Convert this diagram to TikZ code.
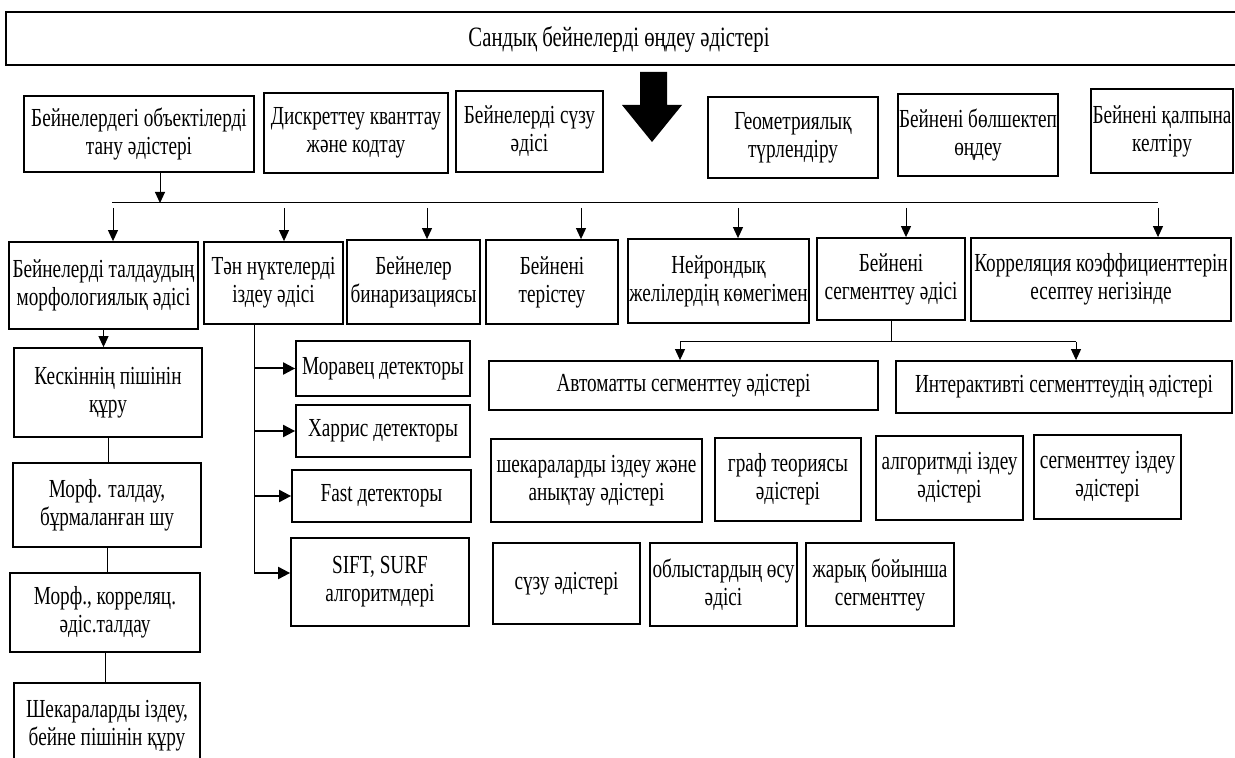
\documentclass[tikz,border=0pt]{standalone}
\usepackage{fontspec}
\setmainfont[FakeStretch=0.74]{Liberation Serif}
\usetikzlibrary{arrows.meta}
\newcommand\mybx[6]{\node[box, minimum width={(#4-#2)*0.5pt}, minimum height={(#5-#3)*0.5pt}] (#1) at ({(#2+#4)/2},{(#3+#5)/2}) {#6};}
\begin{document}
\begin{tikzpicture}[x=0.5pt,y=-0.5pt,
  box/.style={draw, line width=0.9pt, inner sep=0pt, align=center, font=\fontsize{13pt}{14pt}\selectfont},
  arr/.style={line width=0.5pt, -{Triangle[length=5.5pt,width=5pt]}},
  darr/.style={line width=1pt, -{Triangle[length=6pt,width=6pt]}},
  conn/.style={line width=0.5pt}]
\useasboundingbox (0,0) rectangle (1235,758);
% title
\mybx{T}{6}{12}{1245}{65}{}
\node[font=\fontsize{14pt}{16pt}\selectfont] (Tt) at (619,40) {Сандық бейнелерді өңдеу әдістері};
% big arrow
\fill (640,72) -- (667,72) -- (667,105) -- (682,105) -- (652,142) -- (622,105) -- (640,105) -- cycle;
% row 1
\mybx{A}{24}{96}{254}{172}{Бейнелердегі объектілерді\\тану әдістері}
\mybx{B}{264}{93}{448}{173}{Дискреттеу кванттау\\және кодтау}
\mybx{C}{456}{91}{603}{172}{Бейнелерді сүзу\\әдісі}
\mybx{D}{708}{97}{878}{178}{Геометриялық\\түрлендіру}
\mybx{E}{898}{94}{1058}{176}{Бейнені бөлшектеп\\өңдеу}
\mybx{F}{1091}{89}{1233}{173}{Бейнені қалпына\\келтіру}
% row 2
\mybx{G}{9}{242}{198}{329}{Бейнелерді талдаудың\\морфологиялық әдісі}
\mybx{H}{204}{242}{343}{324}{Тән нүктелерді\\іздеу әдісі}
\mybx{I}{347}{240}{480}{324}{Бейнелер\\бинаризациясы}
\mybx{J}{486}{240}{618}{324}{Бейнені\\терістеу}
\mybx{K}{628}{239}{809}{323}{Нейрондық\\желілердің көмегімен}
\mybx{L}{817}{238}{965}{320}{Бейнені\\сегменттеу әдісі}
\mybx{M}{971}{238}{1231}{321}{Корреляция коэффициенттерін\\есептеу негізінде}
% left column
\mybx{Q1}{14}{348}{202}{437}{Кескіннің пішінін\\құру}
\mybx{Q2}{13}{463}{201}{547}{Морф. талдау,\\бұрмаланған шу}
\mybx{Q3}{10}{573}{200}{652}{Морф., корреляц.\\әдіс.талдау}
\mybx{Q4}{14}{683}{200}{768}{Шекараларды іздеу,\\бейне пішінін құру}
% detectors
\mybx{Mor}{296}{341}{470}{396}{Моравец детекторы}
\mybx{Har}{296}{405}{470}{457}{Харрис детекторы}
\mybx{Fst}{292}{470}{471}{522}{Fast детекторы}
\mybx{Sft}{291}{538}{469}{626}{SIFT, SURF\\алгоритмдері}
% segmentation
\mybx{N}{489}{361}{878}{410}{Автоматты сегменттеу әдістері}
\mybx{O}{896}{361}{1232}{413}{Интерактивті сегменттеудің әдістері}
\mybx{P1}{491}{439}{702}{522}{шекараларды іздеу және\\анықтау әдістері}
\mybx{P2}{715}{438}{861}{521}{граф теориясы\\әдістері}
\mybx{P3}{876}{436}{1023}{520}{алгоритмді іздеу\\әдістері}
\mybx{P4}{1034}{435}{1181}{519}{сегменттеу іздеу\\әдістері}
\mybx{P5}{493}{543}{640}{624}{сүзу әдістері}
\mybx{P6}{650}{543}{797}{626}{облыстардың өсу\\әдісі}
\mybx{P7}{806}{543}{954}{626}{жарық бойынша\\сегменттеу}
% bus 1
\coordinate (tA) at (160,203);
\coordinate (bL) at (112,203);
\coordinate (bR) at (1158,203);
\draw[arr] (A.south -| tA) -- (tA);
\draw[conn] (bL) -- (bR);
\foreach \n/\xx in {G/113,H/284,I/427,J/581,K/738,L/906,M/1158}{
  \coordinate (d\n) at (\xx,208);
  \draw[arr] (d\n) -- (d\n |- \n.north);
}
% left column
\draw[arr] (G.south) -- (G.south |- Q1.north);
\draw[conn] (Q1.south) -- (Q1.south |- Q2.north);
\draw[conn] (Q2.south) -- (Q2.south |- Q3.north);
\draw[conn] (Q3.south) -- (Q3.south |- Q4.north);
% detectors spine
\coordinate (sp) at (254,573);
\draw[conn] (H.south -| sp) -- (sp);
\draw[darr] (Mor.west -| sp) -- (Mor.west);
\draw[darr] (Har.west -| sp) -- (Har.west);
\draw[darr] (Fst.west -| sp) -- (Fst.west);
\draw[darr] (sp) -- (sp -| Sft.west);
% segmentation split
\coordinate (b2) at (891,342);
\coordinate (b2l) at (680,342);
\coordinate (b2r) at (1076,342);
\draw[conn] (L.south) -- (b2);
\draw[conn] (b2l) -- (b2r);
\draw[arr] (b2l) -- (b2l |- N.north);
\draw[arr] (b2r) -- (b2r |- O.north);
\end{tikzpicture}
\end{document}
